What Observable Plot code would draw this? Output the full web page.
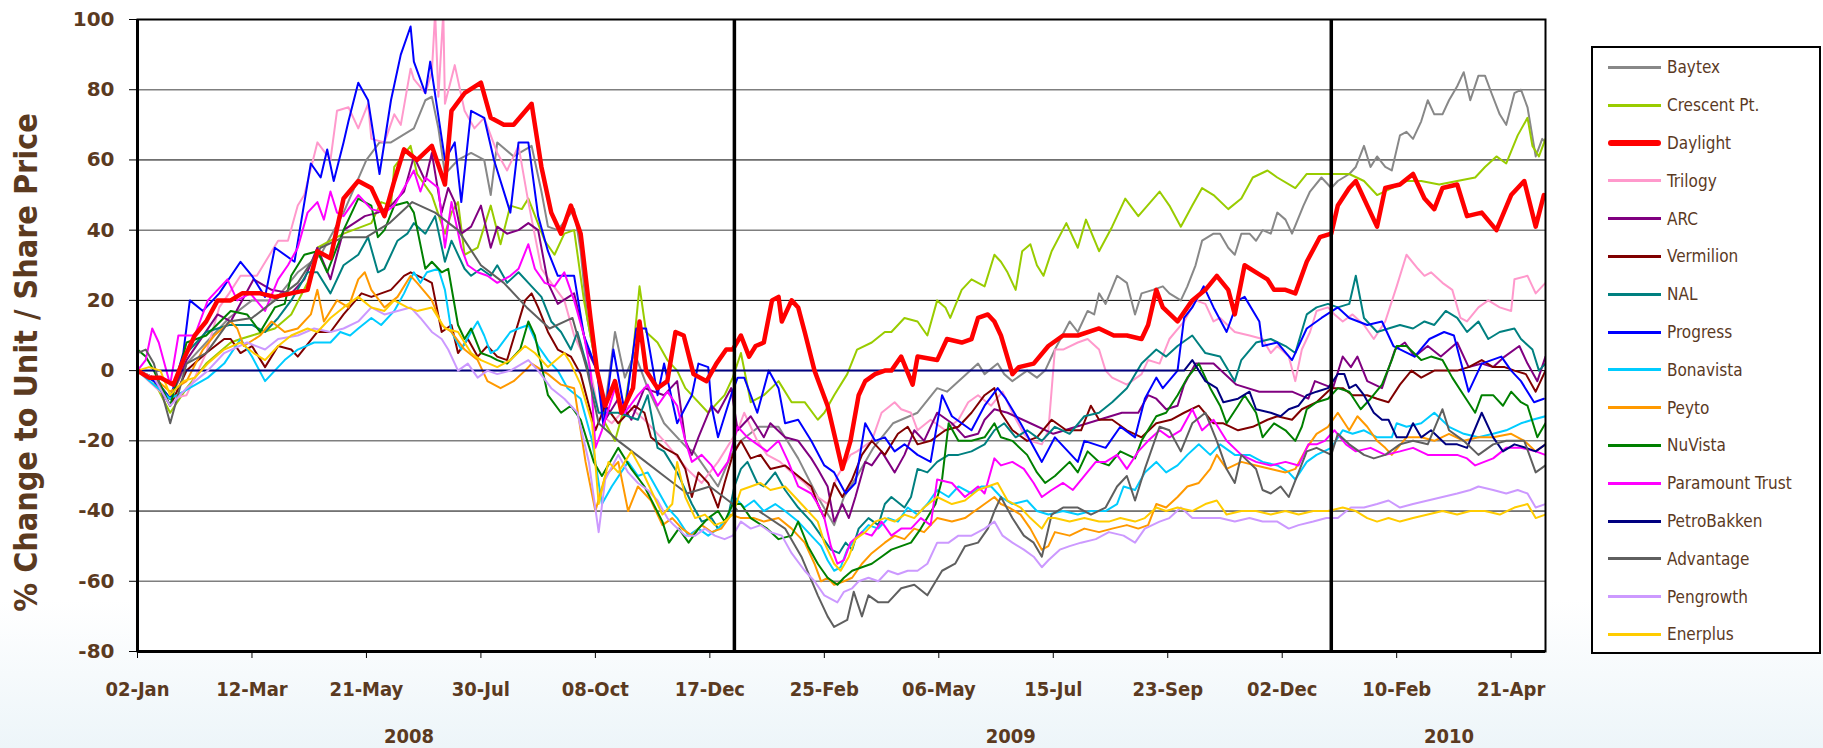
<!DOCTYPE html>
<html><head><meta charset="utf-8">
<script src="https://cdn.jsdelivr.net/npm/d3@7"></script>
<script src="https://cdn.jsdelivr.net/npm/@observablehq/plot@0.6"></script>
<style>
html,body{margin:0;padding:0;}
body{width:1823px;height:748px;position:relative;overflow:hidden;background:linear-gradient(to bottom,#ffffff 0px,#ffffff 600px,#edf5f9 748px);}
#chart{position:absolute;left:0;top:0;}
#legend{position:absolute;left:1591px;top:46px;width:230px;height:608px;box-sizing:border-box;border:2px solid #000;background:#fff;}
.row{position:absolute;left:15px;height:24px;display:flex;align-items:center;white-space:nowrap;}
.row .ln{width:53px;margin-right:6px;}
.row .tx{font-family:"DejaVu Sans Condensed","DejaVu Sans",sans-serif;font-size:17px;color:#5B3A1F;}
</style></head><body>
<div id="chart"></div>
<div id="legend"></div>
<script>
// Each series: [days since 02-Jan-2008, % change]
const baytex = [[0,0],[10,-2],[20,-8],[30,2],[42,8],[56,15],[70,20],[84,20],[98,28],[112,33],[126,45],[140,60],[148,65],[155,65],[162,67],[169,69],[176,77],[180,78],[184,69],[188,56],[196,60],[204,62],[212,60],[216,50],[220,65],[230,61],[241,64],[247,51],[251,41],[257,40],[267,46],[271,34],[275,15],[281,0],[286,-10],[292,11],[298,-2],[304,5],[312,-5],[322,-15],[336,-22],[340,-23],[355,-33],[363,-24],[369,-20],[380,-16],[392,-16],[404,-25],[416,-36],[426,-44],[432,-36],[440,-30],[450,-22],[462,-15],[477,-12],[489,-5],[495,-6],[514,2],[518,-1],[526,2],[530,-1],[535,-3],[544,0],[550,-2],[555,0],[561,6],[570,14],[575,11],[581,17],[585,16],[588,22],[592,19],[599,27],[605,25],[610,16],[614,22],[621,23],[627,24],[631,22],[638,20],[642,24],[647,30],[651,37],[658,39],[662,39],[667,35],[671,33],[675,39],[680,39],[684,37],[688,40],[693,39],[697,45],[702,43],[706,39],[713,47],[717,51],[724,55],[730,52],[734,54],[741,56],[745,58],[750,64],[754,58],[758,61],[763,58],[767,57],[772,67],[776,68],[780,66],[785,71],[789,77],[793,73],[798,73],[802,77],[807,81],[811,85],[815,77],[820,84],[824,84],[828,79],[833,73],[837,70],[842,79],[846,80],[850,75],[855,61],[859,66],[861,65]];
const crescent = [[0,0],[10,-3],[20,-12],[30,-5],[42,2],[57,8],[63,9],[70,10],[84,12],[94,16],[104,25],[110,35],[126,39],[143,42],[149,48],[155,47],[157,58],[167,64],[171,56],[180,50],[188,39],[192,45],[196,48],[200,33],[208,35],[216,47],[222,36],[228,47],[235,46],[239,49],[249,37],[255,33],[261,39],[267,40],[273,20],[277,10],[281,0],[286,-15],[292,-20],[298,-10],[303,5],[307,24],[311,11],[318,8],[324,3],[330,0],[335,-5],[349,-12],[359,-7],[364,-2],[369,5],[375,-9],[383,-7],[392,-3],[400,-9],[408,-9],[416,-14],[420,-12],[426,-7],[434,-1],[440,6],[449,8],[457,11],[461,11],[469,15],[477,14],[483,10],[489,20],[494,18],[497,15],[504,23],[510,26],[518,24],[524,33],[528,31],[532,28],[537,23],[541,34],[546,36],[550,30],[554,27],[559,34],[568,42],[575,35],[580,43],[588,34],[596,41],[604,49],[612,44],[625,51],[631,47],[638,41],[645,47],[651,52],[658,50],[667,46],[675,49],[682,55],[691,57],[697,55],[708,52],[715,56],[724,56],[732,56],[741,56],[750,54],[758,50],[767,52],[776,54],[785,54],[796,53],[807,54],[818,55],[824,58],[831,61],[837,59],[844,67],[850,72],[853,64],[857,61],[861,66]];
const daylight = [[0,0],[7,-2],[14,-2],[22,-4],[28,3],[35,10],[42,14],[49,20],[57,20],[64,22],[75,22],[84,21],[94,22],[104,23],[110,34],[118,32],[126,49],[135,54],[143,52],[151,44],[157,54],[163,63],[171,60],[180,64],[188,53],[192,74],[200,79],[210,82],[216,72],[224,70],[230,70],[241,76],[247,58],[253,45],[259,39],[265,47],[271,39],[277,15],[281,0],[286,-10],[292,-3],[296,-12],[303,-5],[307,14],[311,0],[318,-5],[324,-3],[329,11],[334,10],[340,-1],[348,-3],[354,2],[360,6],[364,6],[369,10],[374,4],[378,7],[383,8],[388,20],[392,21],[394,14],[400,20],[404,18],[408,11],[414,0],[418,-5],[422,-10],[427,-20],[431,-28],[436,-20],[441,-7],[445,-3],[451,-1],[457,0],[461,0],[467,4],[474,-4],[477,4],[489,3],[495,9],[504,8],[510,9],[514,15],[520,16],[524,14],[528,10],[535,-1],[539,1],[548,2],[557,7],[566,10],[575,10],[588,12],[597,10],[605,10],[614,9],[618,13],[623,23],[627,18],[636,14],[645,20],[653,23],[660,27],[667,23],[671,16],[677,30],[684,28],[691,26],[695,23],[702,23],[708,22],[715,31],[723,38],[730,39],[734,47],[741,52],[745,54],[752,47],[758,41],[763,52],[772,53],[780,56],[787,49],[793,46],[798,52],[807,53],[813,44],[822,45],[831,40],[840,50],[848,54],[855,41],[860,50]];
const trilogy = [[0,0],[7,-3],[14,-6],[20,-8],[30,-7],[42,5],[50,18],[56,22],[63,27],[73,27],[86,37],[92,37],[98,47],[102,50],[110,65],[118,60],[122,74],[129,75],[135,69],[141,76],[143,66],[151,65],[157,73],[161,70],[167,86],[169,83],[176,79],[180,85],[182,102],[184,78],[187,102],[188,76],[194,87],[200,74],[206,69],[212,72],[220,62],[226,57],[233,64],[239,48],[247,29],[253,25],[261,20],[267,10],[277,0],[282,-12],[290,-15],[300,-10],[310,-14],[322,-20],[336,-28],[345,-32],[355,-26],[367,-17],[371,-12],[379,-20],[385,-24],[393,-26],[400,-29],[408,-32],[416,-36],[422,-38],[428,-30],[436,-24],[440,-23],[449,-20],[455,-12],[463,-9],[467,-11],[473,-12],[477,-17],[485,-14],[494,-17],[502,-14],[508,-9],[514,-7],[522,-10],[529,-6],[535,-12],[542,-18],[546,-20],[553,-21],[557,-17],[561,6],[566,6],[575,8],[581,9],[588,6],[592,0],[596,-2],[605,-4],[614,-1],[618,3],[625,2],[631,9],[640,14],[647,20],[653,19],[658,14],[662,15],[671,11],[680,10],[688,9],[693,5],[697,7],[704,4],[708,-3],[712,6],[717,11],[721,17],[728,18],[732,16],[737,14],[743,16],[750,13],[756,9],[763,14],[770,24],[776,33],[783,29],[787,27],[791,28],[798,25],[804,23],[809,15],[813,14],[820,18],[826,20],[833,18],[840,17],[842,26],[850,27],[855,22],[861,25]];
const arc = [[0,0],[10,-2],[20,-8],[30,3],[49,16],[57,14],[71,26],[82,23],[94,22],[102,26],[110,35],[118,26],[126,40],[139,44],[147,45],[155,47],[163,51],[169,61],[176,54],[180,62],[186,45],[190,52],[194,48],[198,39],[204,41],[210,47],[216,35],[220,41],[226,39],[233,40],[239,42],[245,40],[251,25],[257,19],[267,22],[275,6],[281,0],[286,-14],[294,-8],[302,-14],[310,-5],[322,-7],[330,-3],[335,-20],[339,-24],[343,-19],[351,-10],[355,-12],[363,-5],[367,-17],[375,-13],[383,-19],[387,-15],[396,-19],[404,-20],[412,-25],[416,-28],[422,-33],[426,-43],[431,-38],[435,-42],[439,-36],[445,-26],[449,-27],[455,-23],[459,-26],[463,-29],[469,-24],[475,-17],[481,-20],[489,-12],[498,-15],[506,-19],[514,-18],[518,-14],[524,-11],[532,-12],[546,-15],[560,-18],[574,-16],[588,-14],[602,-12],[612,-12],[618,-7],[623,-8],[629,-11],[636,-10],[640,-4],[647,2],[658,2],[672,-4],[686,-6],[700,-6],[706,-6],[716,-8],[720,-3],[731,-5],[737,4],[742,1],[746,4],[752,-3],[761,-5],[769,6],[775,8],[781,4],[789,7],[797,4],[807,8],[814,1],[822,2],[829,1],[836,4],[845,7],[850,2],[856,-3],[861,4]];
const vermilion = [[0,0],[10,-2],[20,-10],[30,0],[42,5],[53,9],[57,9],[63,5],[70,7],[78,1],[86,7],[94,6],[98,4],[110,11],[118,11],[126,16],[137,22],[143,21],[155,23],[163,27],[167,28],[176,26],[180,25],[186,11],[192,13],[196,5],[202,9],[208,4],[214,7],[220,4],[226,3],[237,20],[241,22],[245,18],[251,11],[257,6],[265,4],[271,-1],[280,-17],[286,-10],[294,-15],[304,-10],[310,-12],[314,-19],[322,-22],[330,-24],[335,-28],[339,-36],[343,-29],[349,-32],[355,-39],[359,-32],[364,-24],[369,-20],[375,-25],[381,-24],[387,-28],[396,-27],[404,-30],[412,-33],[416,-38],[420,-42],[426,-32],[431,-36],[437,-31],[443,-24],[449,-20],[457,-24],[465,-18],[471,-16],[477,-21],[485,-20],[494,-17],[502,-16],[510,-12],[518,-7],[524,-5],[528,-12],[535,-17],[544,-20],[550,-19],[559,-14],[568,-17],[577,-17],[583,-10],[588,-14],[596,-14],[605,-17],[614,-19],[623,-15],[632,-14],[640,-12],[649,-10],[658,-15],[664,-15],[673,-17],[682,-16],[691,-14],[697,-13],[706,-14],[712,-11],[721,-9],[730,-5],[737,-5],[743,-7],[752,-7],[758,-8],[765,-9],[772,-4],[779,0],[785,-2],[789,-1],[793,0],[800,0],[807,0],[814,1],[822,3],[829,1],[836,1],[842,0],[849,-1],[855,-6],[861,0]];
const nal = [[0,0],[10,-2],[20,-8],[30,5],[42,11],[56,13],[70,13],[78,11],[86,15],[94,20],[104,28],[110,28],[118,22],[126,30],[135,33],[141,38],[147,28],[151,29],[159,37],[165,39],[169,42],[176,39],[182,44],[188,31],[192,37],[200,29],[204,27],[210,29],[216,27],[220,30],[226,25],[233,28],[241,24],[247,21],[253,14],[259,11],[265,6],[269,11],[275,1],[282,-12],[294,-12],[306,-14],[312,-7],[318,-22],[322,-23],[330,-29],[339,-38],[345,-43],[351,-42],[355,-45],[361,-42],[365,-33],[369,-28],[373,-26],[379,-32],[383,-33],[390,-29],[396,-34],[404,-39],[412,-43],[418,-47],[424,-51],[429,-52],[433,-49],[437,-51],[441,-45],[447,-42],[453,-44],[457,-38],[461,-36],[469,-39],[473,-36],[477,-28],[483,-29],[489,-26],[496,-24],[502,-24],[510,-23],[518,-21],[524,-17],[530,-15],[537,-19],[544,-17],[553,-20],[561,-16],[570,-18],[579,-13],[588,-12],[596,-9],[605,-5],[614,2],[623,6],[629,4],[636,7],[645,10],[653,5],[662,4],[671,-3],[675,3],[684,8],[693,9],[702,7],[708,5],[715,16],[721,18],[728,19],[734,18],[741,19],[745,27],[750,15],[758,11],[765,12],[772,13],[780,12],[787,14],[793,13],[800,17],[807,15],[813,11],[820,14],[826,9],[833,11],[842,12],[846,9],[853,6],[857,0],[861,2]];
const progress = [[0,0],[10,-3],[20,-8],[28,5],[32,20],[40,17],[50,22],[63,31],[70,27],[78,21],[84,35],[96,31],[106,59],[112,55],[116,63],[120,54],[126,65],[129,71],[135,82],[141,77],[148,56],[155,77],[161,90],[167,98],[169,88],[176,79],[179,88],[188,60],[194,65],[198,48],[204,74],[212,72],[218,60],[228,45],[233,65],[239,65],[245,44],[251,34],[257,27],[267,27],[273,10],[281,0],[285,-16],[291,6],[298,-12],[305,12],[311,12],[318,-7],[322,2],[330,-15],[339,-7],[343,2],[349,1],[351,-10],[355,-19],[363,-7],[367,-2],[371,-2],[379,-12],[386,0],[392,-5],[396,-15],[404,-14],[412,-20],[420,-27],[426,-29],[433,-35],[439,-32],[445,-15],[451,-20],[457,-19],[463,-23],[469,-21],[477,-24],[485,-26],[492,-7],[498,-13],[510,-17],[518,-10],[526,-5],[531,-8],[540,-15],[553,-26],[561,-19],[575,-26],[579,-20],[592,-22],[601,-16],[610,-19],[616,-8],[623,-2],[627,-5],[636,0],[640,15],[645,18],[652,24],[658,18],[666,11],[673,20],[677,21],[686,14],[688,7],[697,8],[706,3],[715,12],[724,15],[734,18],[741,15],[752,13],[761,14],[768,7],[781,4],[790,9],[799,11],[805,10],[814,-6],[822,2],[834,4],[840,0],[846,-3],[854,-9],[860,-8]];
const bonavista = [[0,0],[10,-4],[20,-8],[28,-6],[43,-2],[53,2],[63,9],[70,4],[78,-3],[82,-1],[90,3],[98,6],[108,8],[118,8],[124,11],[130,10],[135,12],[143,15],[149,13],[157,17],[163,22],[169,28],[173,25],[177,28],[184,29],[188,23],[192,11],[198,6],[204,11],[208,14],[212,10],[216,5],[220,6],[228,11],[233,12],[239,13],[245,7],[251,3],[257,0],[263,-5],[271,-8],[278,-20],[284,-38],[290,-33],[300,-26],[306,-30],[312,-29],[318,-34],[324,-39],[330,-42],[337,-47],[343,-45],[349,-47],[355,-45],[361,-42],[365,-36],[371,-39],[377,-37],[383,-40],[390,-38],[396,-40],[404,-43],[412,-47],[418,-50],[422,-54],[426,-57],[430,-56],[434,-51],[441,-47],[447,-44],[453,-45],[459,-42],[465,-43],[471,-39],[477,-41],[483,-38],[489,-34],[496,-36],[502,-33],[510,-35],[516,-33],[522,-33],[528,-36],[535,-38],[544,-37],[550,-40],[557,-41],[566,-40],[575,-41],[583,-40],[592,-40],[599,-38],[603,-33],[610,-34],[616,-29],[623,-26],[629,-29],[636,-27],[642,-24],[649,-21],[656,-24],[662,-21],[671,-24],[680,-24],[688,-26],[697,-27],[704,-29],[708,-31],[715,-26],[721,-24],[730,-22],[737,-17],[743,-18],[750,-17],[758,-19],[767,-19],[770,-15],[776,-16],[785,-15],[793,-12],[802,-16],[811,-18],[820,-19],[829,-18],[837,-17],[846,-15],[853,-14],[861,-13]];
const peyto = [[0,0],[10,-2],[20,-6],[30,-3],[40,6],[47,10],[57,14],[61,12],[65,7],[75,10],[82,14],[90,11],[98,12],[106,16],[110,23],[114,14],[122,20],[129,18],[135,26],[139,28],[143,23],[151,18],[159,21],[167,27],[171,25],[180,20],[186,13],[192,11],[200,6],[208,3],[214,-3],[222,-5],[230,-3],[237,0],[241,2],[251,-1],[259,-4],[267,-5],[274,-26],[280,-40],[286,-30],[294,-26],[300,-40],[306,-33],[314,-37],[321,-44],[327,-42],[333,-45],[339,-47],[345,-44],[351,-46],[357,-45],[363,-41],[369,-42],[377,-42],[383,-43],[392,-42],[400,-45],[408,-49],[414,-55],[418,-60],[422,-59],[426,-61],[432,-60],[437,-59],[443,-55],[449,-52],[457,-49],[463,-47],[469,-48],[475,-45],[481,-46],[489,-42],[498,-43],[506,-42],[512,-40],[518,-38],[524,-36],[528,-38],[533,-39],[540,-41],[546,-45],[553,-51],[557,-50],[561,-46],[570,-47],[579,-45],[588,-46],[596,-45],[605,-44],[612,-45],[618,-44],[623,-38],[629,-39],[636,-36],[642,-33],[649,-32],[656,-28],[660,-24],[666,-28],[675,-26],[684,-27],[693,-28],[702,-29],[708,-28],[715,-22],[721,-18],[728,-16],[734,-12],[741,-17],[746,-13],[752,-16],[758,-20],[763,-22],[767,-24],[776,-19],[785,-19],[793,-20],[802,-18],[811,-20],[820,-19],[829,-19],[840,-18],[848,-20],[855,-23],[861,-21]];
const nuvista = [[0,6],[5,4],[10,0],[20,-10],[30,8],[42,10],[57,17],[67,16],[75,11],[84,18],[90,19],[94,27],[102,33],[110,34],[116,28],[126,40],[135,49],[143,47],[147,38],[151,40],[157,47],[165,48],[169,45],[176,29],[180,31],[186,28],[190,29],[196,13],[200,9],[204,12],[210,5],[216,4],[220,3],[226,2],[234,6],[239,14],[243,10],[251,-7],[259,-12],[265,-10],[271,-14],[279,-26],[284,-30],[294,-22],[302,-28],[310,-33],[321,-43],[325,-49],[331,-45],[337,-49],[343,-45],[349,-42],[355,-40],[359,-43],[364,-38],[369,-38],[375,-42],[385,-45],[392,-48],[400,-47],[404,-43],[410,-50],[416,-55],[422,-59],[428,-61],[432,-59],[437,-57],[443,-56],[449,-55],[455,-53],[461,-51],[467,-50],[473,-49],[479,-45],[488,-38],[492,-31],[496,-15],[502,-20],[510,-20],[518,-19],[524,-15],[528,-19],[535,-20],[544,-24],[550,-29],[555,-32],[561,-30],[570,-26],[575,-29],[581,-23],[588,-26],[594,-27],[601,-23],[610,-25],[614,-20],[623,-13],[629,-12],[636,-7],[642,-2],[649,2],[656,-5],[662,-10],[666,-15],[673,-10],[677,-7],[684,-12],[688,-19],[695,-15],[702,-17],[708,-20],[712,-16],[715,-11],[721,-9],[728,-8],[734,-5],[741,-6],[748,-11],[754,-8],[761,-4],[767,3],[770,7],[776,7],[785,3],[791,4],[798,3],[804,-2],[811,-7],[818,-12],[822,-7],[829,-7],[835,-10],[840,-6],[846,-9],[850,-10],[856,-19],[861,-15]];
const paramount = [[0,0],[5,3],[9,12],[13,8],[20,-4],[25,10],[35,10],[43,20],[49,23],[55,26],[61,20],[69,22],[78,17],[86,26],[92,30],[98,35],[104,45],[110,48],[114,43],[118,51],[122,45],[126,44],[135,50],[143,46],[151,45],[157,47],[163,52],[169,57],[173,51],[176,55],[184,52],[188,35],[192,48],[198,35],[202,30],[208,28],[214,27],[220,25],[228,27],[233,29],[239,36],[243,29],[249,25],[255,24],[261,28],[267,20],[273,10],[277,0],[280,-22],[284,-17],[292,-5],[298,-12],[306,-7],[312,-4],[318,-10],[324,-6],[330,-10],[335,-20],[339,-26],[345,-24],[351,-27],[355,-30],[361,-26],[367,-16],[373,-19],[379,-21],[385,-23],[392,-20],[398,-26],[404,-33],[412,-35],[416,-38],[420,-42],[424,-50],[428,-55],[432,-54],[436,-49],[443,-46],[449,-47],[455,-43],[461,-47],[467,-45],[473,-45],[479,-42],[485,-44],[489,-31],[498,-32],[506,-36],[514,-33],[518,-35],[524,-25],[528,-27],[535,-26],[542,-28],[548,-32],[553,-36],[559,-34],[566,-32],[572,-34],[579,-30],[586,-26],[592,-26],[599,-24],[605,-28],[612,-23],[618,-20],[625,-17],[631,-19],[638,-17],[645,-11],[651,-17],[658,-14],[666,-20],[675,-24],[684,-26],[693,-27],[702,-26],[710,-27],[716,-21],[721,-21],[726,-20],[732,-17],[739,-21],[745,-23],[754,-22],[763,-24],[772,-23],[780,-22],[789,-24],[798,-24],[807,-24],[813,-25],[818,-27],[829,-25],[837,-22],[846,-22],[855,-23],[861,-24]];
const petrobakken = [[0,0],[640,0],[645,3],[649,0],[653,-3],[660,-5],[664,-9],[673,-8],[680,-6],[684,-11],[693,-12],[699,-13],[704,-11],[710,-10],[715,-7],[721,-6],[728,-5],[734,-1],[738,-1],[741,-5],[745,-4],[750,-7],[756,-12],[761,-14],[765,-14],[770,-19],[776,-19],[780,-15],[785,-19],[791,-17],[800,-21],[807,-21],[813,-22],[822,-12],[829,-19],[835,-23],[842,-21],[849,-22],[855,-23],[861,-21]];
const advantage = [[0,5],[5,6],[10,2],[20,-15],[30,2],[42,5],[56,14],[70,15],[84,20],[98,25],[112,35],[126,38],[140,38],[154,42],[168,48],[182,45],[196,40],[210,30],[224,25],[238,18],[252,12],[266,15],[275,0],[282,-15],[294,-20],[308,-25],[322,-30],[336,-35],[350,-33],[364,-38],[367,-40],[380,-40],[396,-45],[406,-53],[416,-64],[422,-70],[426,-73],[430,-72],[434,-71],[438,-63],[443,-70],[447,-64],[453,-66],[459,-66],[467,-62],[475,-61],[483,-64],[492,-57],[500,-55],[506,-50],[514,-49],[520,-45],[524,-40],[528,-36],[535,-42],[542,-47],[548,-49],[553,-53],[559,-41],[566,-39],[575,-39],[583,-41],[592,-39],[599,-33],[605,-30],[610,-37],[616,-28],[625,-16],[631,-17],[638,-23],[645,-15],[653,-12],[660,-20],[666,-28],[671,-32],[675,-24],[684,-28],[688,-34],[693,-35],[699,-33],[704,-36],[710,-29],[715,-23],[721,-22],[730,-24],[734,-18],[741,-21],[750,-24],[756,-25],[763,-24],[772,-21],[780,-20],[789,-21],[798,-11],[802,-17],[811,-20],[820,-24],[829,-21],[837,-20],[848,-20],[855,-29],[861,-27]];
const pengrowth = [[0,0],[10,-2],[20,-10],[30,-5],[43,0],[53,5],[67,8],[78,6],[86,9],[98,10],[108,12],[118,11],[126,12],[135,14],[143,18],[151,16],[159,17],[167,18],[173,15],[180,11],[186,9],[190,6],[196,0],[202,2],[208,-2],[214,0],[220,-1],[228,0],[239,3],[245,0],[253,-5],[261,-8],[269,-12],[276,-26],[282,-46],[286,-31],[294,-24],[300,-29],[306,-32],[312,-34],[318,-37],[324,-42],[328,-44],[335,-47],[341,-47],[347,-45],[353,-47],[359,-48],[364,-47],[369,-43],[375,-45],[381,-44],[387,-46],[394,-47],[400,-52],[408,-57],[414,-60],[420,-64],[424,-65],[428,-66],[432,-63],[437,-62],[441,-60],[447,-59],[453,-60],[459,-57],[465,-58],[471,-57],[477,-57],[483,-55],[489,-49],[496,-49],[502,-47],[510,-47],[518,-45],[524,-43],[529,-47],[535,-49],[542,-51],[548,-53],[553,-56],[557,-54],[564,-51],[570,-50],[577,-49],[586,-48],[594,-46],[603,-47],[610,-49],[616,-45],[625,-43],[631,-42],[638,-39],[645,-42],[653,-42],[662,-42],[671,-43],[680,-42],[688,-43],[697,-43],[704,-45],[710,-44],[719,-43],[727,-42],[734,-42],[742,-39],[750,-39],[758,-38],[765,-37],[772,-39],[780,-38],[789,-37],[798,-36],[807,-35],[815,-34],[820,-33],[829,-34],[837,-35],[844,-34],[850,-35],[855,-39],[861,-38]];
const enerplus = [[0,0],[7,1],[14,0],[20,-7],[28,-3],[35,-2],[43,2],[53,6],[63,8],[71,5],[78,3],[86,7],[94,10],[104,12],[110,11],[118,15],[126,18],[135,21],[143,18],[151,17],[157,20],[165,18],[171,17],[180,18],[188,12],[196,11],[204,5],[210,3],[220,1],[228,3],[237,7],[243,5],[251,1],[261,5],[265,2],[271,-4],[278,-15],[282,-38],[288,-26],[294,-29],[302,-23],[308,-28],[314,-34],[321,-41],[327,-38],[330,-26],[335,-36],[341,-42],[347,-41],[353,-44],[359,-43],[364,-41],[369,-34],[375,-33],[381,-32],[387,-34],[396,-33],[402,-36],[408,-39],[416,-43],[420,-49],[426,-55],[430,-57],[435,-53],[439,-48],[445,-46],[451,-43],[457,-42],[463,-43],[469,-41],[475,-42],[481,-39],[489,-36],[498,-38],[506,-37],[514,-34],[520,-33],[526,-32],[532,-37],[540,-39],[546,-42],[553,-45],[557,-42],[561,-42],[570,-43],[579,-42],[588,-43],[594,-43],[601,-42],[610,-43],[616,-42],[623,-39],[629,-40],[636,-39],[645,-40],[653,-38],[660,-37],[666,-41],[675,-40],[684,-40],[693,-41],[702,-40],[710,-41],[719,-40],[728,-40],[737,-39],[745,-40],[752,-42],[758,-43],[765,-42],[772,-43],[780,-42],[789,-41],[798,-40],[807,-41],[815,-40],[824,-40],[833,-41],[842,-39],[850,-38],[855,-42],[861,-41]];

const names = ["Baytex","Crescent Pt.","Daylight","Trilogy","ARC","Vermilion","NAL","Progress","Bonavista","Peyto","NuVista","Paramount Trust","PetroBakken","Advantage","Pengrowth","Enerplus"];
const colors = ["#888888","#99CC00","#FF0000","#FF99CC","#800080","#800000","#008080","#0000FF","#00CCFF","#FF9900","#008000","#FF00FF","#000080","#5F5F5F","#CC99FF","#FFCC00"];
const seriesValues = [baytex,crescent,daylight,trilogy,arc,vermilion,nal,progress,bonavista,peyto,nuvista,paramount,petrobakken,advantage,pengrowth,enerplus];

const startDate = "2008-01-02";
const endDate = "2010-05-12";
const xTicks = ["2008-01-02","2008-03-12","2008-05-21","2008-07-30","2008-10-08","2008-12-17","2009-02-25","2009-05-06","2009-07-15","2009-09-23","2009-12-02","2010-02-10","2010-04-21"];
const yearLabels = ["2008-06-16","2009-06-19","2010-03-14"];
const yearBreaks = ["2009-01-01","2010-01-01"];
const yTicks = [-80,-60,-40,-20,0,20,40,60,80,100];
const gridGray = [80,40,-20,-60];
const gridBlack = [60,20,0,-40];
const yLabel = "% Change to Unit / Share Price";

const t0 = new Date(startDate);
const rows = [];
names.forEach((name, i) => {
  seriesValues[i].forEach(([day, v]) => rows.push({name, date: d3.utcDay.offset(t0, day), value: v}));
});
const others = rows.filter(d => d.name !== "Daylight");
const dl = rows.filter(d => d.name === "Daylight");

const brown = "#5B3A1F";
const x1 = new Date(endDate);

const chart = Plot.plot({
  width: 1580, height: 748,
  marginLeft: 137, marginRight: 35, marginTop: 19, marginBottom: 97,
  style: {background: "transparent", overflow: "visible"},
  x: {type: "utc", domain: [t0, x1]},
  y: {domain: [-80, 100]},
  color: {domain: names, range: colors},
  marks: [
    Plot.frame({fill: "white", stroke: null}),
    Plot.ruleY(gridGray, {stroke: "#7f7f7f", strokeWidth: 1.5}),
    Plot.ruleY(gridBlack, {stroke: "#000", strokeWidth: 1}),
    Plot.line(others, {x: "date", y: "value", z: "name", stroke: "name", strokeWidth: 2, strokeLinejoin: "round", clip: true}),
    Plot.line(dl, {x: "date", y: "value", stroke: "name", strokeWidth: 4.5, strokeLinejoin: "round", clip: true}),
    Plot.ruleX(yearBreaks.map(d => new Date(d)), {stroke: "#000", strokeWidth: 3.5}),
    Plot.frame({stroke: "#000", strokeWidth: 2}),
    Plot.ruleX([t0], {stroke: "#000", strokeWidth: 3}),
    Plot.ruleY([-80], {stroke: "#000", strokeWidth: 3}),
    Plot.axisY(yTicks, {tickSize: 8, tickPadding: 15, tickFormat: d => String(d), fontSize: 20, fontWeight: "bold", fontFamily: "DejaVu Sans", stroke: "#000", fill: brown, label: null}),
    Plot.axisX(xTicks.map(d => new Date(d)), {tickSize: 7, tickPadding: 23, tickFormat: d3.utcFormat("%d-%b"), fontSize: 20, fontWeight: "bold", fontFamily: "DejaVu Sans Condensed", stroke: "#000", fill: brown, label: null}),
    Plot.axisX(yearLabels.map(d => new Date(d)), {tickSize: 0, tickPadding: 77, tickFormat: d3.utcFormat("%Y"), fontSize: 20, fontWeight: "bold", fontFamily: "DejaVu Sans Condensed", fill: brown, label: null}),
    Plot.text([yLabel], {frameAnchor: "left", rotate: -90, dx: -111, dy: 27, fontSize: 32, fontWeight: "bold", fontFamily: "DejaVu Sans Condensed", fill: brown, textAnchor: "middle"})
  ]
});
document.getElementById("chart").appendChild(chart);

const legend = document.getElementById("legend");
names.forEach((name, i) => {
  const row = document.createElement("div");
  row.className = "row";
  row.style.top = (7.4 + i * 37.8) + "px";
  const ln = document.createElement("div");
  ln.className = "ln";
  ln.style.height = name === "Daylight" ? "6px" : "3px";
  ln.style.borderRadius = name === "Daylight" ? "3px" : "0";
  ln.style.background = colors[i];
  const tx = document.createElement("span");
  tx.className = "tx";
  tx.textContent = name;
  row.appendChild(ln); row.appendChild(tx);
  legend.appendChild(row);
});
</script>
</body></html>
